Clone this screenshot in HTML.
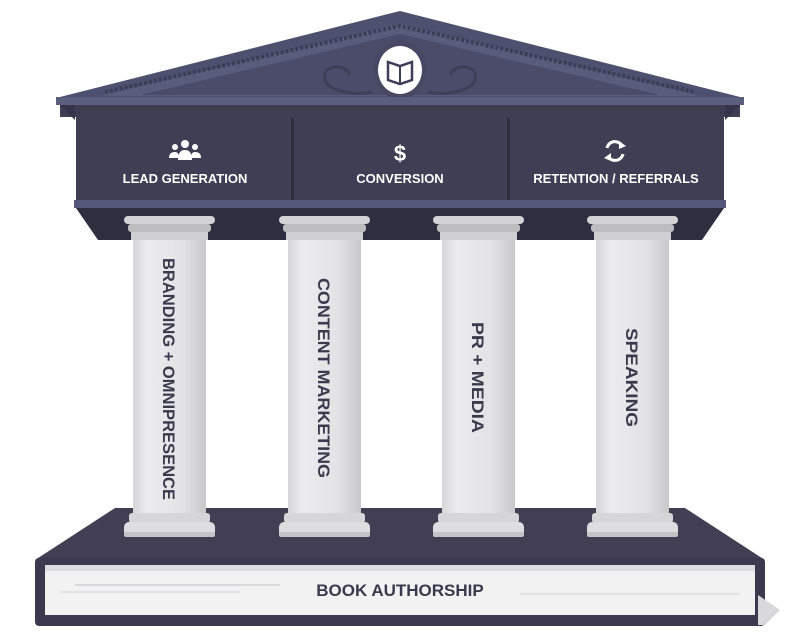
<!DOCTYPE html>
<html><head><style>
html,body{margin:0;padding:0;background:#fff;}
svg{display:block;}
text{font-family:"Liberation Sans",sans-serif;font-weight:bold;}
</style></head><body>
<svg width="800" height="642" viewBox="0 0 800 642" xmlns="http://www.w3.org/2000/svg">
<defs>
<linearGradient id="col" x1="0" x2="1">
<stop offset="0" stop-color="#d6d6d8"/><stop offset="0.2" stop-color="#ececee"/><stop offset="0.7" stop-color="#e2e2e4"/><stop offset="1" stop-color="#c8c8cb"/>
</linearGradient>
</defs>
<!-- pediment -->
<polygon points="400,11 56,98 744,98" fill="#4e5070"/>
<polygon points="400,24 100,96 700,96" fill="#5a5c7c"/>
<polygon points="400,34 140,95 660,95" fill="#4a4c69"/>
<polyline points="105,92 400,26 695,92" fill="none" stroke="#3c3d57" stroke-width="4" stroke-dasharray="3 2"/>
<ellipse cx="400" cy="70" rx="27" ry="29" fill="#474864"/>
<ellipse cx="400" cy="70" rx="22" ry="24" fill="#fff"/>
<path d="M388 62 L400 66 L412 62 L412 80 L400 84 L388 80 Z" fill="none" stroke="#3c3d57" stroke-width="2.5"/>
<line x1="400" y1="66" x2="400" y2="84" stroke="#3c3d57" stroke-width="2"/>
<path d="M372 92 C355 96 330 92 325 80 C320 65 345 62 350 75" fill="none" stroke="#3e3f59" stroke-width="3"/>
<path d="M428 92 C445 96 470 92 475 80 C480 65 455 62 450 75" fill="none" stroke="#3e3f59" stroke-width="3"/>
<!-- cornice -->
<rect x="56" y="97" width="688" height="8" fill="#5c5e7e"/>
<rect x="60" y="105" width="680" height="12" fill="#3e3d52"/>
<polygon points="60,105 75,120 75,105" fill="#34334a"/>
<polygon points="740,105 725,120 725,105" fill="#34334a"/>
<!-- frieze -->
<rect x="76" y="117" width="648" height="85" fill="#403e54"/>
<rect x="291" y="118" width="3" height="84" fill="#2f2e40"/>
<rect x="507" y="118" width="3" height="84" fill="#2f2e40"/>
<rect x="74" y="200" width="652" height="8" fill="#55577a"/>
<polygon points="76,208 724,208 702,240 98,240" fill="#2f2e40"/>
<!-- icons -->
<g fill="#fff">
<circle cx="185" cy="144" r="4"/><circle cx="175" cy="147" r="3"/><circle cx="195" cy="147" r="3"/>
<path d="M178 160 Q178 150 185 150 Q192 150 192 160 Z"/><path d="M169 158 Q169 152 175 152 Q179 152 179 158 Z"/><path d="M191 158 Q191 152 195 152 Q201 152 201 158 Z"/>
</g>
<text x="400" y="161" font-size="22" fill="#fff" text-anchor="middle">$</text>
<path d="M607 148 A8 8 0 0 1 622 146 M623 154 A8 8 0 0 1 608 156" fill="none" stroke="#fff" stroke-width="3"/>
<polygon points="619,141 626,146 619,149" fill="#fff"/><polygon points="611,153 604,158 611,161" fill="#fff"/>
<g fill="#fff" font-size="13" text-anchor="middle">
<text x="185" y="183">LEAD GENERATION</text>
<text x="400" y="183">CONVERSION</text>
<text x="616" y="183">RETENTION / REFERRALS</text>
</g>
<!-- book -->
<polygon points="115,508 685,508 765,560 35,560" fill="#423f54"/>
<rect x="35" y="558" width="730" height="68" rx="4" fill="#3c394e"/>
<rect x="45" y="565" width="710" height="50" fill="#f2f2f3"/>
<rect x="45" y="565" width="710" height="6" fill="#dcdcde"/>
<polygon points="758,595 780,610 765,625 758,625" fill="#d8d8da"/>
<line x1="75" y1="585" x2="280" y2="585" stroke="#d9d9db" stroke-width="2"/>
<line x1="60" y1="592" x2="240" y2="592" stroke="#dddddf" stroke-width="1.5"/>
<line x1="520" y1="594" x2="740" y2="594" stroke="#dddddf" stroke-width="1.5"/>
<text x="400" y="596" font-size="17" fill="#3b394d" text-anchor="middle">BOOK AUTHORSHIP</text>
<!-- columns -->
<g id="c">
<rect x="124" y="216" width="91" height="8" rx="4" fill="#d3d3d5"/>
<rect x="128" y="224" width="83" height="8" rx="3" fill="#bdbdc0"/>
<rect x="131" y="232" width="77" height="8" fill="#cfcfd2"/>
<rect x="133" y="240" width="73" height="278" fill="url(#col)"/>
<rect x="129" y="513" width="81" height="10" rx="3" fill="#d6d6d8"/>
<rect x="124" y="522" width="91" height="15" rx="5" fill="#dddddf"/>
<rect x="124" y="532" width="91" height="5" rx="2" fill="#c4c4c7"/>
</g>
<use href="#c" x="155"/><use href="#c" x="309"/><use href="#c" x="463"/>
<g fill="#3b394d" font-size="16.5">
<text transform="translate(163,258) rotate(90)" textLength="242" lengthAdjust="spacingAndGlyphs">BRANDING + OMNIPRESENCE</text>
<text transform="translate(318,278) rotate(90)" textLength="200" lengthAdjust="spacingAndGlyphs">CONTENT  MARKETING</text>
<text transform="translate(472,322) rotate(90)" textLength="111" lengthAdjust="spacingAndGlyphs">PR + MEDIA</text>
<text transform="translate(626,328) rotate(90)" textLength="99" lengthAdjust="spacingAndGlyphs">SPEAKING</text>
</g>
</svg>
</body></html>
